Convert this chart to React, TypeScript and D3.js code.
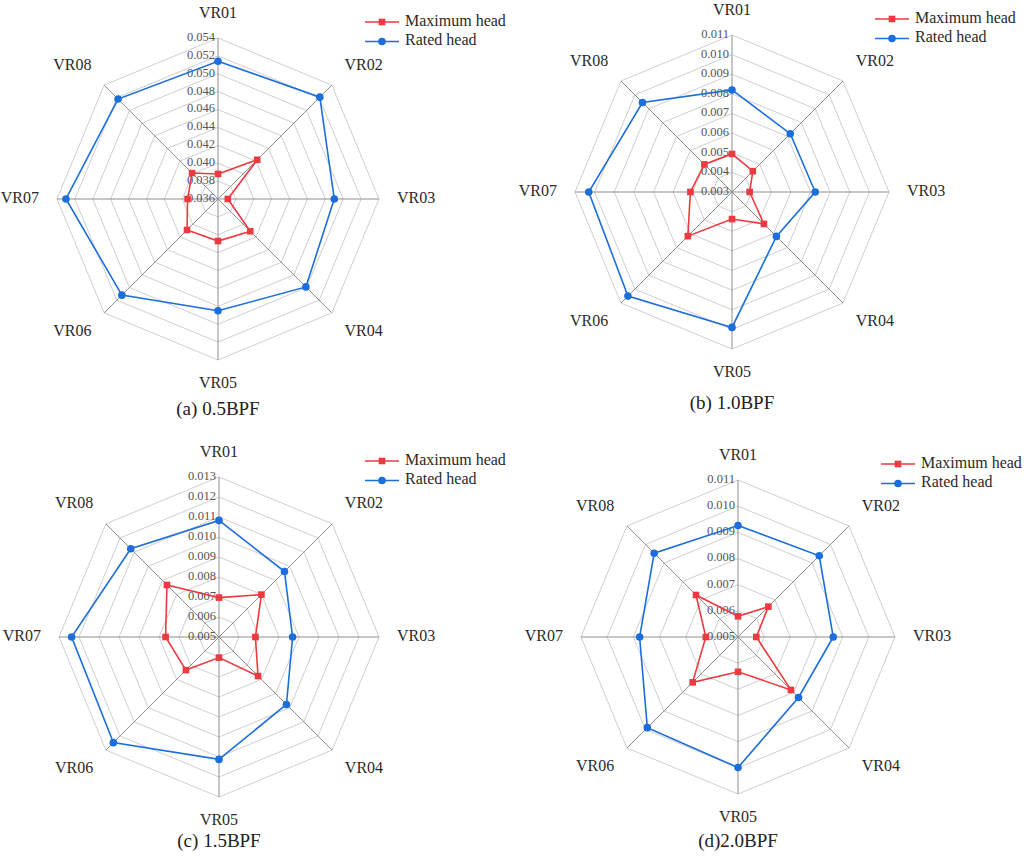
import * as d3 from "d3";

// axis categories shared by all four panels
const categories = ["VR01", "VR02", "VR03", "VR04", "VR05", "VR06", "VR07", "VR08"];
const seriesNames = ["Maximum head", "Rated head"];

// (a) 0.5BPF
const ticksA = ["0.036", "0.038", "0.040", "0.042", "0.044", "0.046", "0.048", "0.050", "0.052", "0.054"];
const maxA = [0.0388, 0.0422, 0.0371, 0.0411, 0.0407, 0.0409, 0.0394, 0.0401];
const ratedA = [0.0514, 0.0521, 0.049, 0.0499, 0.0485, 0.0512, 0.053, 0.0518];

// (b) 1.0BPF
const ticksB = ["0.003", "0.004", "0.005", "0.006", "0.007", "0.008", "0.009", "0.010", "0.011"];
const maxB = [0.00494, 0.0045, 0.0039, 0.0053, 0.00438, 0.00618, 0.00512, 0.00499];
const ratedB = [0.0082, 0.0072, 0.00724, 0.0062, 0.0099, 0.0105, 0.0103, 0.00945];

// (c) 1.5BPF
const ticksC = ["0.005", "0.006", "0.007", "0.008", "0.009", "0.010", "0.011", "0.012", "0.013"];
const maxC = [0.00697, 0.008, 0.00682, 0.00776, 0.00603, 0.00734, 0.00767, 0.00868];
const ratedC = [0.01083, 0.00963, 0.00868, 0.00977, 0.01112, 0.01247, 0.01237, 0.01124];

// (d) 2.0BPF
const ticksD = ["0.005", "0.006", "0.007", "0.008", "0.009", "0.010", "0.011"];
const maxD = [0.00579, 0.00664, 0.0057, 0.00786, 0.00633, 0.00745, 0.00623, 0.00727];
const ratedD = [0.00926, 0.00939, 0.00864, 0.00827, 0.00999, 0.0099, 0.00876, 0.00953];

const RED = "#EC3A40";
const BLUE = "#1C6EDC";
const FONT = "'Liberation Serif', 'Times New Roman', serif";

interface PanelProps {
  cx: number;
  cy: number;
  R: number;
  ticks: string[];
  maxVals: number[];
  ratedVals: number[];
  title: string;
  titleDy: number;
}

const RadarPanel: React.FC<PanelProps> = ({ cx, cy, R, ticks, maxVals, ratedVals, title, titleDy }) => {
  const tickVals = ticks.map(Number);
  const r = d3
    .scaleLinear()
    .domain([tickVals[0], tickVals[tickVals.length - 1]])
    .range([0, R]);
  const angle = d3
    .scaleLinear()
    .domain([0, categories.length])
    .range([0, 2 * Math.PI]);

  const ring = d3
    .lineRadial<number>()
    .angle((_, i) => angle(i))
    .radius(d => d)
    .curve(d3.curveLinearClosed);

  const valueLine = d3
    .lineRadial<number>()
    .angle((_, i) => angle(i))
    .radius(d => r(d))
    .curve(d3.curveLinearClosed);

  const px = (v: number, i: number) => Math.sin(angle(i)) * r(v);
  const py = (v: number, i: number) => -Math.cos(angle(i)) * r(v);

  const series = [
    { name: seriesNames[0], vals: maxVals, color: RED, shape: "square" },
    { name: seriesNames[1], vals: ratedVals, color: BLUE, shape: "circle" },
  ];

  const marker = (shape: string, x: number, y: number, color: string, key?: string | number) =>
    shape === "square" ? (
      <rect key={key} x={x - 3.3} y={y - 3.3} width={6.6} height={6.6} fill={color} />
    ) : (
      <circle key={key} cx={x} cy={y} r={3.8} fill={color} />
    );

  return (
    <g transform={`translate(${cx},${cy})`}>
      {tickVals.slice(1).map(t => (
        <path
          key={t}
          d={ring(categories.map(() => r(t))) ?? ""}
          fill="none"
          stroke="#cfcfcf"
          strokeWidth={1}
        />
      ))}
      {categories.map((c, i) => (
        <line
          key={c}
          x1={0}
          y1={0}
          x2={Math.sin(angle(i)) * R}
          y2={-Math.cos(angle(i)) * R}
          stroke="#8f8f8f"
          strokeWidth={1}
        />
      ))}
      {ticks.map((t, i) => (
        <text
          key={t}
          x={-3}
          y={-r(tickVals[i])}
          textAnchor="end"
          dominantBaseline="middle"
          fontSize={12.5}
          fill="#555"
          fontFamily={FONT}
        >
          {t}
        </text>
      ))}
      {categories.map((c, i) => {
        const a = angle(i);
        const s = Math.sin(a);
        const co = Math.cos(a);
        const horizontal = Math.abs(co) < 0.01;
        const vertical = Math.abs(s) < 0.01;
        const x = horizontal ? s * (R + 18) : s * (R + 45);
        const y = horizontal ? 0 : vertical ? -co * (R + 24) : -co * (R + 27);
        return (
          <text
            key={c}
            x={x}
            y={y}
            textAnchor={horizontal ? (s > 0 ? "start" : "end") : "middle"}
            dominantBaseline="middle"
            fontSize={16}
            fill="#2a2a2a"
            fontFamily={FONT}
          >
            {c}
          </text>
        );
      })}
      {series.map(s => (
        <g key={s.name}>
          <path d={valueLine(s.vals) ?? ""} fill="none" stroke={s.color} strokeWidth={1.6} />
          {s.vals.map((v, i) => marker(s.shape, px(v, i), py(v, i), s.color, i))}
        </g>
      ))}
      {series.map((s, k) => {
        const lx = R - 14;
        const ly = -R - 16 + k * 19.5;
        return (
          <g key={s.name} transform={`translate(${lx},${ly})`}>
            <line x1={0} y1={0} x2={34} y2={0} stroke={s.color} strokeWidth={1.6} />
            {marker(s.shape, 17, 0, s.color)}
            <text x={40} y={0} dominantBaseline="middle" fontSize={16} fill="#2a2a2a" fontFamily={FONT}>
              {s.name}
            </text>
          </g>
        );
      })}
      <text
        x={0}
        y={titleDy}
        textAnchor="middle"
        dominantBaseline="middle"
        fontSize={19}
        fill="#222"
        fontFamily={FONT}
      >
        {title}
      </text>
    </g>
  );
};

export default function App() {
  return (
    <svg
      width={1024}
      height={860}
      style={{ position: "absolute", left: 0, top: 0, background: "#fff" }}
    >
      <rect width={1024} height={860} fill="#fff" />
      <RadarPanel cx={218} cy={199} R={161} ticks={ticksA} maxVals={maxA} ratedVals={ratedA} title="(a) 0.5BPF" titleDy={212} />
      <RadarPanel cx={732} cy={192} R={157} ticks={ticksB} maxVals={maxB} ratedVals={ratedB} title="(b) 1.0BPF" titleDy={213} />
      <RadarPanel cx={219} cy={637} R={160} ticks={ticksC} maxVals={maxC} ratedVals={ratedC} title="(c) 1.5BPF" titleDy={206} />
      <RadarPanel cx={738} cy={637} R={157} ticks={ticksD} maxVals={maxD} ratedVals={ratedD} title="(d)2.0BPF" titleDy={206} />
    </svg>
  );
}
